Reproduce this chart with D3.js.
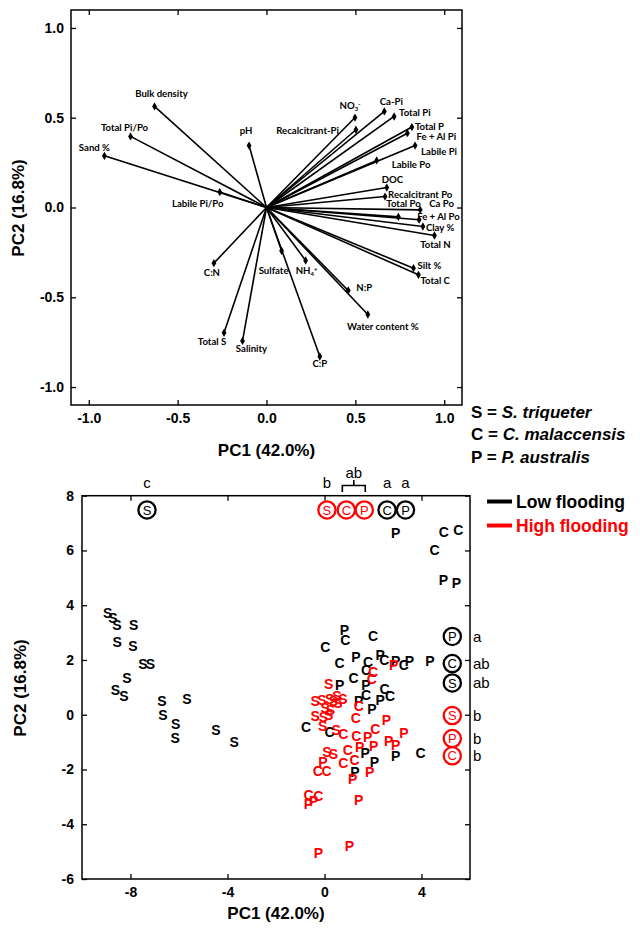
<!DOCTYPE html>
<html><head><meta charset="utf-8">
<script src="https://cdn.jsdelivr.net/npm/d3@7"></script>
<style>
body{margin:0;background:#fff;}
svg{display:block;font-family:"Liberation Sans",Arial,sans-serif;}
</style></head><body>
<svg id="c" width="640" height="933"></svg>
<script>
// ---------- DATA: loadings (top panel) ----------
const vectorNames = ["Bulk density","Total Pi/Po","Sand %","Labile Pi/Po","pH","NO3-","Recalcitrant-Pi","Ca-Pi","Total Pi","Total P","Fe + Al Pi","Labile Pi","Labile Po","DOC","Recalcitrant Po","Total Po","Ca Po","Fe + Al Po","Clay %","Total N","Silt %","Total C","C:N","Sulfate","NH4+","N:P","Water content %","Total S","Salinity","C:P"];
const vectorPC1 = [-0.630,-0.765,-0.912,-0.263,-0.098,0.498,0.503,0.663,0.718,0.818,0.793,0.836,0.620,0.677,0.667,0.742,0.865,0.859,0.880,0.945,0.827,0.855,-0.296,0.085,0.220,0.460,0.570,-0.239,-0.135,0.300];
const vectorPC2 = [0.563,0.396,0.288,0.086,0.345,0.501,0.433,0.535,0.507,0.448,0.414,0.345,0.262,0.111,0.061,-0.052,-0.013,-0.068,-0.106,-0.156,-0.338,-0.375,-0.310,-0.241,-0.295,-0.462,-0.596,-0.698,-0.743,-0.830];
const topTicks = [-1.0,-0.5,0.0,0.5,1.0];

// ---------- DATA: scores (bottom panel) ----------
const lowS = [[-8.94,3.71],[-8.73,3.53],[-8.56,3.28],[-7.87,3.28],[-8.55,2.65],[-7.90,2.53],[-7.49,1.86],[-7.18,1.86],[-8.15,1.36],[-8.62,0.89],[-8.27,0.69],[-6.70,0.52],[-5.67,0.57],[-6.66,0.0],[-6.14,-0.34],[-6.16,-0.85],[-4.48,-0.57],[-3.72,-1.01]];
const lowC = [[0.03,2.49],[0.86,2.74],[2.0,2.88],[0.62,1.89],[1.80,1.91],[2.47,2.0],[3.27,1.80],[1.71,1.62],[1.20,1.34],[1.71,0.73],[2.48,0.95],[2.70,0.67],[-0.76,-0.45],[0.21,-0.63],[3.96,-1.41],[4.54,6.0],[4.92,6.69],[5.52,6.75]];
const lowP = [[0.82,3.08],[1.30,2.10],[2.30,2.17],[2.93,1.95],[3.50,1.95],[4.35,1.95],[0.63,1.09],[1.71,1.10],[2.30,0.53],[1.96,0.20],[1.41,0.49],[1.68,-1.40],[2.06,-1.72],[2.94,-1.52],[1.25,-2.10],[2.93,6.63],[4.90,4.93],[5.44,4.81]];
const highS = [[0.17,1.14],[-0.38,0.52],[-0.11,0.55],[0.21,0.57],[0.51,0.67],[0.76,0.57],[0.37,0.51],[0.03,0.24],[0.24,0.16],[0.55,0.42],[-0.38,-0.06],[-0.04,-0.09],[0.17,0.0],[-0.08,-0.40],[0.48,-0.55],[0.10,-1.37],[0.37,-1.42]];
const highC = [[2.0,1.55],[1.95,1.32],[1.41,0.33],[1.29,-0.12],[2.10,-0.52],[0.78,-0.69],[1.31,-0.78],[0.96,-1.30],[1.24,-1.66],[0.78,-1.75],[-0.28,-2.07],[0.08,-2.07],[-0.66,-2.92],[-0.26,-2.98]];
const highP = [[2.85,1.83],[2.55,-0.20],[3.27,-0.65],[2.65,-0.97],[2.93,-1.12],[1.78,-0.80],[2.03,-1.14],[1.45,-1.19],[-0.07,-1.74],[1.86,-2.08],[1.16,-2.34],[-0.66,-3.26],[-0.45,-3.16],[1.41,-3.13],[-0.25,-5.05],[1.03,-4.81]];
// group means on PC1 (top row) and PC2 (right column) with significance letters
const meanPC1Group  = ["low","high","high","high","low","low"];
const meanPC1Sp     = ["S","S","C","P","C","P"];
const meanPC1Value  = [-7.32,0.10,0.90,1.64,2.58,3.34];
const meanPC1Letter = ["c","b","","","a","a"];
const meanPC2Group  = ["low","low","low","high","high","high"];
const meanPC2Sp     = ["P","C","S","S","P","C"];
const meanPC2Value  = [2.86,1.87,1.16,-0.03,-0.87,-1.50];
const meanPC2Letter = ["a","ab","ab","b","b","b"];
const bottomXTicks = [-8,-4,0,4];
const bottomYTicks = [8,6,4,2,0,-2,-4,-6];
const speciesKey = [["S","S. triqueter"],["C","C. malaccensis"],["P","P. australis"]];
const floodNames = ["Low flooding","High flooding"];

// ---------- layout of vector labels (pixel offsets from endpoint) ----------
const labelLayout = {
 "Bulk density":[7,-13,"middle"],"Total Pi/Po":[-6,-9,"middle"],"Sand %":[-10,-8,"middle"],
 "Labile Pi/Po":[-22,12,"middle"],"pH":[-3,-15,"middle"],"NO3-":[-5,-12,"middle"],
 "Recalcitrant-Pi":[-17,1,"end"],"Ca-Pi":[7,-10,"middle"],"Total Pi":[5,-4,"start"],
 "Total P":[3,0,"start"],"Fe + Al Pi":[9,3,"start"],"Labile Pi":[6,6,"start"],
 "Labile Po":[15,4,"start"],"DOC":[-5,-8,"start"],"Recalcitrant Po":[3,-2,"start"],
 "Total Po":[-12,-13,"start"],"Ca Po":[9,-6,"start"],"Fe + Al Po":[-2,-3,"start"],
 "Clay %":[3,1,"start"],"Total N":[1,9,"middle"],"Silt %":[4,-3,"start"],
 "Total C":[2,6,"start"],"C:N":[-2,9,"middle"],"Sulfate":[-8,20,"middle"],
 "NH4+":[1,10,"middle"],"N:P":[16,-3,"middle"],"Water content %":[15,12,"middle"],
 "Total S":[-12,9,"middle"],"Salinity":[9,8,"middle"],"C:P":[0,7,"middle"]
};

const svg = d3.select("#c");
const colors = {low:"#000000", high:"#ff0000"};

function styleAxis(g, size){
  g.select(".domain").remove();
  g.selectAll(".tick line").attr("stroke","#000").attr("stroke-width",1.3);
  g.selectAll(".tick text").attr("fill","#000").attr("font-size",size).attr("font-weight","bold")
   .attr("font-family","'Liberation Sans',Arial,sans-serif");
}

// ================= TOP PANEL =================
const xT = d3.scaleLinear().domain([-1.1,1.1]).range([71,462]);
const yT = d3.scaleLinear().domain([-1.1,1.1]).range([405,10]);
const gT = svg.append("g");
const fmt1 = d => d.toFixed(1);
gT.append("g").attr("transform","translate(71,0)")
  .call(d3.axisLeft(yT).tickValues(topTicks).tickSize(-5).tickPadding(7).tickFormat(fmt1)).call(g=>styleAxis(g,14));
gT.append("g").attr("transform","translate(462,0)")
  .call(d3.axisRight(yT).tickValues(topTicks).tickSize(-5).tickFormat("")).call(g=>styleAxis(g,14));
gT.append("g").attr("transform","translate(0,405)")
  .call(d3.axisBottom(xT).tickValues(topTicks).tickSize(-5).tickPadding(8).tickFormat(fmt1)).call(g=>styleAxis(g,14));
gT.append("g").attr("transform","translate(0,10)")
  .call(d3.axisTop(xT).tickValues(topTicks).tickSize(-5).tickFormat("")).call(g=>styleAxis(g,14));
gT.append("rect").attr("x",71).attr("y",10).attr("width",391).attr("height",395)
  .attr("fill","none").attr("stroke","#000").attr("stroke-width",1.5);

const vecs = vectorNames.map((n,i)=>({name:n,x:vectorPC1[i],y:vectorPC2[i]}));
gT.append("g").selectAll("line").data(vecs).join("line")
  .attr("x1",xT(0)).attr("y1",yT(0)).attr("x2",d=>xT(d.x)).attr("y2",d=>yT(d.y))
  .attr("stroke","#000").attr("stroke-width",1.6);
gT.append("g").selectAll("path").data(vecs).join("path")
  .attr("d",d3.symbol(d3.symbolDiamond).size(20))
  .attr("transform",d=>`translate(${xT(d.x)},${yT(d.y)})`).attr("fill","#000");
const lab = gT.append("g").selectAll("text").data(vecs).join("text")
  .attr("x",d=>xT(d.x)+labelLayout[d.name][0])
  .attr("y",d=>yT(d.y)+labelLayout[d.name][1])
  .attr("dy","0.35em")
  .attr("text-anchor",d=>labelLayout[d.name][2])
  .attr("font-family","Lato,'Open Sans',sans-serif").attr("font-weight","bold").attr("font-size",9.6)
  .attr("fill","#000");
lab.each(function(d){
  const t = d3.select(this);
  if(d.name==="NO3-"){
    t.append("tspan").text("NO");
    t.append("tspan").attr("font-size",6).attr("dy","2").text("3");
    t.append("tspan").attr("font-size",6).attr("dy","-5").text("-");
  } else if(d.name==="NH4+"){
    t.append("tspan").text("NH");
    t.append("tspan").attr("font-size",6).attr("dy","2").text("4");
    t.append("tspan").attr("font-size",6).attr("dy","-5").text("+");
  } else t.text(d.name);
});
gT.append("text").attr("transform","translate(18,208) rotate(-90)").attr("text-anchor","middle")
  .attr("dy","0.35em").attr("font-size",17).attr("font-weight","bold").text("PC2 (16.8%)");
gT.append("text").attr("x",266.5).attr("y",450).attr("text-anchor","middle")
  .attr("dy","0.35em").attr("font-size",17).attr("font-weight","bold").text("PC1 (42.0%)");

// ================= LEGENDS =================
const lg = svg.append("g");
speciesKey.forEach((s,i)=>{
  const t = lg.append("text").attr("x",471).attr("y",[411.5,433.5,456.5][i]).attr("dy","0.36em")
    .attr("font-size",17).attr("font-weight","bold");
  t.append("tspan").text(s[0]+" = ");
  t.append("tspan").attr("font-style","italic").text(s[1]);
});
["low","high"].forEach((g,i)=>{
  const y = 501.5 + i*24;
  lg.append("line").attr("x1",487).attr("x2",512).attr("y1",y).attr("y2",y)
    .attr("stroke",colors[g]).attr("stroke-width",4);
  lg.append("text").attr("x",516).attr("y",y).attr("dy","0.36em").attr("font-size",17.5)
    .attr("font-weight","bold").attr("fill",colors[g]).text(floodNames[i]);
});

// ================= BOTTOM PANEL =================
const xB = d3.scaleLinear().domain([-10,6]).range([82,470]);
const yB = d3.scaleLinear().domain([-6,8]).range([879,495.7]);
const gB = svg.append("g");
gB.append("g").attr("transform","translate(82,0)")
  .call(d3.axisLeft(yB).tickValues(bottomYTicks).tickSize(-5).tickPadding(8).tickFormat(d=>String(d))).call(g=>styleAxis(g,14));
gB.append("g").attr("transform","translate(470,0)")
  .call(d3.axisRight(yB).tickValues(bottomYTicks).tickSize(-5).tickFormat("")).call(g=>styleAxis(g,14));
gB.append("g").attr("transform","translate(0,879)")
  .call(d3.axisBottom(xB).tickValues(bottomXTicks).tickSize(-5).tickPadding(8).tickFormat(d=>String(d))).call(g=>styleAxis(g,14));
gB.append("g").attr("transform","translate(0,495.7)")
  .call(d3.axisTop(xB).tickValues(bottomXTicks).tickSize(-5).tickFormat("")).call(g=>styleAxis(g,14));
gB.append("rect").attr("x",82).attr("y",495.7).attr("width",388).attr("height",383.3)
  .attr("fill","none").attr("stroke","#000").attr("stroke-width",1.5);

const groups = [
  {g:"low",sp:"S",pts:lowS},{g:"low",sp:"C",pts:lowC},{g:"low",sp:"P",pts:lowP},
  {g:"high",sp:"S",pts:highS},{g:"high",sp:"C",pts:highC},{g:"high",sp:"P",pts:highP}
];
const pts = groups.flatMap(G=>G.pts.map(p=>({g:G.g,sp:G.sp,x:p[0],y:p[1]})));
gB.append("g").selectAll("text").data(pts).join("text")
  .attr("x",d=>xB(d.x)).attr("y",d=>yB(d.y)).attr("dy","0.36em").attr("text-anchor","middle")
  .attr("font-size",14).attr("font-weight","bold").attr("fill",d=>colors[d.g]).text(d=>d.sp);

// mean markers
const ROW_Y = 7.48, COL_X = 5.27;
const m1 = meanPC1Value.map((v,i)=>({g:meanPC1Group[i],sp:meanPC1Sp[i],x:v,y:ROW_Y,l:meanPC1Letter[i]}));
const m2 = meanPC2Value.map((v,i)=>({g:meanPC2Group[i],sp:meanPC2Sp[i],x:COL_X,y:v,l:meanPC2Letter[i]}));
const mg = gB.append("g").selectAll("g").data(m1.concat(m2)).join("g")
  .attr("transform",d=>`translate(${xB(d.x)},${yB(d.y)})`);
mg.append("circle").attr("r",8.6).attr("fill","#fff").attr("stroke",d=>colors[d.g]).attr("stroke-width",2.3);
mg.append("text").attr("dy","0.36em").attr("text-anchor","middle").attr("font-size",13)
  .attr("fill",d=>colors[d.g]).text(d=>d.sp);
// letters
gB.append("g").selectAll("text").data(m1.filter(d=>d.l)).join("text")
  .attr("x",d=>xB(d.x)).attr("y",483).attr("dy","0.36em").attr("text-anchor","middle")
  .attr("font-size",15).text(d=>d.l);
gB.append("g").selectAll("text").data(m2).join("text")
  .attr("x",473).attr("y",d=>yB(d.y)).attr("dy","0.36em").attr("text-anchor","start")
  .attr("font-size",15).text(d=>d.l);
// bracket for the "ab" pair
const bx1 = xB(meanPC1Value[2])-4, bx2 = xB(meanPC1Value[3])+1, bm=(bx1+bx2)/2;
gB.append("path").attr("d",`M${bx1},492V485.5H${bx2}V492M${bm},485.5V480`)
  .attr("fill","none").attr("stroke","#000").attr("stroke-width",1.6);
gB.append("text").attr("x",bm).attr("y",472.5).attr("dy","0.36em").attr("text-anchor","middle")
  .attr("font-size",15).text("ab");

gB.append("text").attr("transform","translate(20,688) rotate(-90)").attr("text-anchor","middle")
  .attr("dy","0.35em").attr("font-size",17).attr("font-weight","bold").text("PC2 (16.8%)");
gB.append("text").attr("x",276).attr("y",913).attr("text-anchor","middle")
  .attr("dy","0.35em").attr("font-size",17).attr("font-weight","bold").text("PC1 (42.0%)");
</script>
</body></html>
